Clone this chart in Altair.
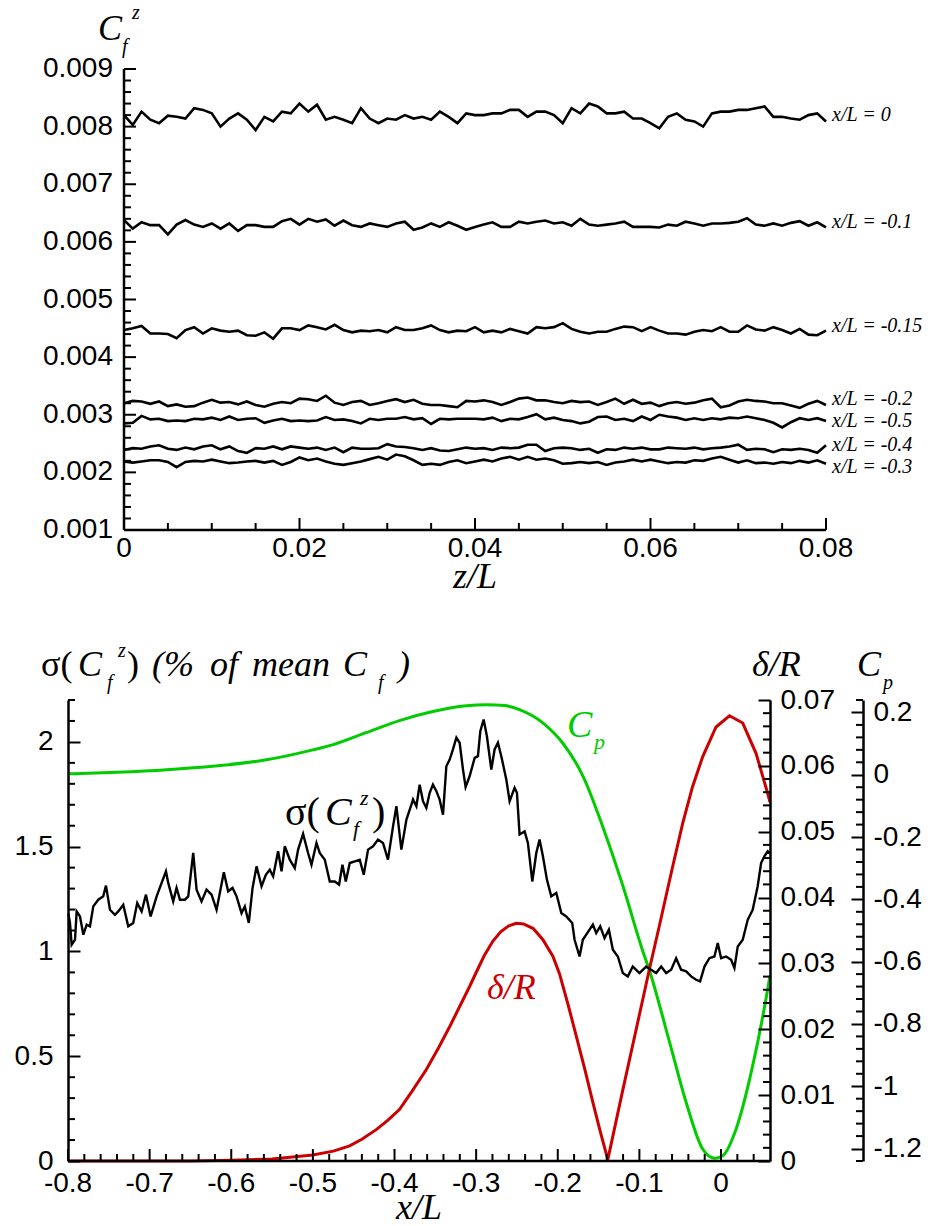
import altair as alt
import pandas as pd

# ---------------- top panel data (Cf^z, units of 1e-5) ----------------
SERIES = ["x/L = 0", "x/L = -0.1", "x/L = -0.15", "x/L = -0.2",
          "x/L = -0.5", "x/L = -0.4", "x/L = -0.3"]
Z = [round(i * 0.001, 3) for i in range(81)]

CF_0 = [820, 803, 826, 812, 806, 819, 817, 814, 832, 829,
        823, 800, 814, 823, 812, 794, 817, 809, 826, 823,
        840, 826, 838, 812, 817, 812, 806, 832, 814, 806,
        814, 812, 820, 814, 817, 812, 826, 817, 806, 823,
        820, 820, 823, 823, 829, 829, 817, 826, 826, 820,
        806, 832, 823, 840, 835, 823, 823, 826, 814, 814,
        806, 797, 817, 823, 812, 809, 800, 823, 826, 826,
        829, 829, 832, 835, 817, 817, 814, 812, 820, 823,
        809]
CF_M01 = [638, 623, 634, 629, 629, 613, 630, 638, 630, 626,
          632, 623, 632, 619, 629, 629, 626, 626, 636, 640,
          630, 640, 635, 639, 628, 637, 629, 626, 632, 629,
          626, 632, 635, 621, 625, 632, 626, 634, 628, 621,
          626, 630, 634, 626, 626, 635, 632, 635, 637, 632,
          634, 628, 640, 630, 628, 630, 632, 635, 626, 626,
          626, 625, 630, 628, 635, 632, 628, 632, 632, 633,
          635, 641, 630, 628, 632, 628, 633, 636, 628, 634,
          625]
CF_M015 = [447, 450, 454, 441, 441, 440, 433, 447, 452, 441,
           450, 446, 444, 446, 438, 437, 443, 432, 450, 450,
           447, 455, 452, 448, 456, 447, 443, 446, 445, 447,
           443, 452, 447, 447, 450, 455, 447, 443, 446, 445,
           452, 443, 446, 443, 449, 445, 441, 452, 450, 452,
           459, 449, 444, 441, 444, 444, 449, 453, 452, 445,
           452, 446, 441, 441, 439, 444, 447, 445, 452, 444,
           444, 455, 448, 446, 452, 447, 441, 449, 439, 438,
           446]
CF_M02 = [320, 324, 323, 319, 323, 315, 318, 314, 315, 321,
          326, 321, 322, 318, 323, 317, 314, 319, 322, 320,
          328, 327, 324, 333, 321, 317, 322, 324, 317, 320,
          324, 327, 322, 326, 319, 317, 317, 315, 313, 324,
          323, 325, 322, 317, 322, 328, 330, 325, 325, 322,
          320, 324, 322, 323, 317, 322, 328, 319, 326, 319,
          321, 315, 320, 322, 319, 321, 325, 328, 313, 316,
          323, 326, 324, 323, 320, 320, 316, 312, 319, 324,
          317]
CF_M05 = [285, 286, 298, 292, 293, 289, 290, 289, 293, 292,
          295, 291, 297, 291, 293, 294, 286, 290, 293, 289,
          290, 289, 290, 296, 291, 292, 289, 285, 293, 291,
          293, 293, 296, 292, 294, 284, 293, 292, 293, 293,
          293, 292, 295, 289, 293, 292, 296, 301, 292, 295,
          291, 289, 285, 288, 296, 297, 291, 293, 289, 297,
          291, 300, 297, 295, 291, 294, 291, 294, 292, 295,
          294, 297, 294, 291, 286, 278, 287, 294, 291, 294,
          289]
CF_M04 = [239, 242, 241, 245, 247, 241, 239, 243, 240, 245,
          247, 240, 245, 237, 234, 242, 241, 245, 240, 245,
          243, 241, 243, 239, 243, 235, 243, 241, 241, 242,
          249, 245, 244, 242, 239, 242, 238, 237, 240, 243,
          241, 242, 239, 243, 242, 243, 248, 248, 237, 242,
          243, 242, 239, 241, 234, 240, 239, 243, 241, 243,
          240, 240, 243, 242, 241, 243, 240, 242, 243, 245,
          248, 239, 241, 240, 235, 240, 239, 241, 239, 234,
          247]
CF_M03 = [219, 217, 219, 221, 221, 218, 209, 218, 220, 219,
          222, 219, 216, 217, 219, 220, 217, 220, 213, 218,
          226, 221, 224, 219, 215, 213, 216, 219, 223, 227,
          222, 231, 228, 221, 213, 215, 213, 218, 221, 216,
          219, 222, 219, 224, 227, 222, 227, 222, 224, 221,
          215, 216, 218, 216, 218, 213, 217, 219, 222, 219,
          222, 219, 216, 218, 217, 221, 220, 224, 227, 222,
          217, 221, 216, 217, 215, 218, 216, 220, 217, 221,
          215]
CF_ALL = [CF_0, CF_M01, CF_M015, CF_M02, CF_M05, CF_M04, CF_M03]
LABEL_Y = [0.00820, 0.00634, 0.00454, 0.00328, 0.00289, 0.00248, 0.00210]

TOP_X_MAJOR = [0, 0.02, 0.04, 0.06, 0.08]
TOP_X_MINOR = [0.005, 0.01, 0.015, 0.025, 0.03, 0.035, 0.045, 0.05, 0.055, 0.065, 0.07, 0.075]
TOP_Y_MAJOR = [0.001, 0.002, 0.003, 0.004, 0.005, 0.006, 0.007, 0.008, 0.009]
TOP_Y_MINOR = [round(0.001 + 0.0002 * i, 4) for i in range(1, 40) if i % 5]

# ---------------- bottom panel data ----------------
SIG_X = [-0.7996, -0.7976, -0.7955, -0.7914, -0.7894, -0.7853, -0.7812, -0.7771, -0.7731, -0.769,
         -0.7629, -0.7568, -0.7535, -0.7486, -0.7425, -0.7384, -0.7323, -0.7262, -0.7201, -0.7152,
         -0.7098, -0.7045, -0.6988, -0.6914, -0.6853, -0.68, -0.6772, -0.6711, -0.667, -0.6629,
         -0.6568, -0.6527, -0.6466, -0.6425, -0.6364, -0.6303, -0.6241, -0.618, -0.614, -0.6091,
         -0.6038, -0.5984, -0.5935, -0.5874, -0.5834, -0.5785, -0.5739, -0.569, -0.5629, -0.5576,
         -0.5528, -0.5487, -0.5426, -0.5384, -0.5344, -0.5283, -0.5222, -0.5181, -0.512, -0.5059,
         -0.5017, -0.4956, -0.4916, -0.4854, -0.4793, -0.4732, -0.4679, -0.4638, -0.4597, -0.4548,
         -0.4487, -0.4426, -0.4377, -0.4324, -0.4263, -0.4202, -0.4141, -0.408, -0.4018, -0.3977,
         -0.3916, -0.3854, -0.3793, -0.3773, -0.3732, -0.3692, -0.3651, -0.361, -0.3569, -0.3529,
         -0.3487, -0.3447, -0.3406, -0.3365, -0.3324, -0.3284, -0.3242, -0.3202, -0.3161, -0.3129,
         -0.308, -0.3018, -0.2978, -0.2949, -0.2908, -0.2868, -0.2814, -0.2774, -0.2733, -0.2692,
         -0.263, -0.259, -0.2529, -0.25, -0.2468, -0.2406, -0.2366, -0.2312, -0.2263, -0.2223,
         -0.2182, -0.2133, -0.208, -0.2018, -0.1957, -0.1896, -0.1823, -0.1794, -0.1733, -0.1693,
         -0.1611, -0.157, -0.1529, -0.148, -0.1427, -0.1374, -0.1325, -0.1264, -0.1203, -0.1142,
         -0.1081, -0.0999, -0.0917, -0.0856, -0.0795, -0.0733, -0.0672, -0.0611, -0.055, -0.0489,
         -0.0427, -0.0366, -0.0305, -0.0256, -0.0203, -0.0142, -0.0081, -0.004, 0.0001, 0.0062,
         0.0124, 0.0164, 0.0205, 0.0266, 0.0327, 0.0388, 0.0449, 0.0491, 0.0531, 0.0572,
         0.06]
SIG_Y = [1.18, 1.136, 1.032, 1.056, 1.191, 1.167, 1.080, 1.128, 1.120, 1.215,
         1.247, 1.263, 1.314, 1.199, 1.175, 1.191, 1.223, 1.120, 1.136, 1.231,
         1.191, 1.271, 1.167, 1.263, 1.327, 1.382, 1.327, 1.239, 1.303, 1.247,
         1.247, 1.263, 1.470, 1.295, 1.239, 1.295, 1.271, 1.199, 1.279, 1.378,
         1.287, 1.303, 1.263, 1.183, 1.215, 1.136, 1.303, 1.406, 1.311, 1.366,
         1.390, 1.358, 1.478, 1.382, 1.502, 1.438, 1.398, 1.486, 1.561, 1.470,
         1.414, 1.518, 1.470, 1.438, 1.334, 1.334, 1.319, 1.414, 1.334, 1.422,
         1.430, 1.438, 1.366, 1.486, 1.502, 1.534, 1.518, 1.438, 1.597, 1.693,
         1.486, 1.629, 1.701, 1.725, 1.693, 1.796, 1.717, 1.685, 1.757, 1.796,
         1.765, 1.725, 1.653, 1.884, 1.916, 1.964, 2.020, 1.996, 1.868, 1.785,
         1.836, 1.924, 1.932, 2.051, 2.107, 2.027, 1.868, 1.964, 1.996, 1.932,
         1.820, 1.717, 1.781, 1.757, 1.558, 1.573, 1.518, 1.334, 1.470, 1.534,
         1.454, 1.343, 1.263, 1.279, 1.183, 1.167, 1.136, 1.056, 0.976, 1.056,
         1.104, 1.128, 1.088, 1.120, 1.064, 1.104, 1.008, 0.976, 0.897, 0.881,
         0.928, 0.897, 0.928, 0.913, 0.897, 0.928, 0.897, 0.913, 0.968, 0.913,
         0.905, 0.881, 0.865, 0.857, 0.928, 0.968, 0.976, 1.040, 0.968, 0.976,
         0.960, 0.921, 1.024, 1.056, 1.151, 1.199, 1.311, 1.422, 1.454, 1.478,
         1.47]

DEL_X = [-0.8, -0.65, -0.6, -0.55, -0.5, -0.475, -0.455, -0.44, -0.422, -0.408,
         -0.394, -0.378, -0.361, -0.346, -0.332, -0.32, -0.308, -0.2997, -0.29, -0.2794,
         -0.27, -0.26, -0.2508, -0.242, -0.23, -0.2182, -0.206, -0.1978, -0.1875, -0.1774,
         -0.167, -0.157, -0.148, -0.1387, -0.1203, -0.1, -0.0876, -0.0754, -0.0714, -0.06,
         -0.0469, -0.035, -0.0224, -0.0061, 0.0103, 0.0266, 0.0429, 0.0572, 0.06]
DEL_Y = [0.0, 0.0, 0.0001, 0.0003, 0.0009, 0.0015, 0.0023, 0.0033, 0.0048, 0.0062,
         0.0078, 0.0107, 0.0139, 0.0172, 0.0205, 0.0235, 0.0265, 0.0287, 0.0312, 0.0334,
         0.0348, 0.0357, 0.0361, 0.0360, 0.0353, 0.0336, 0.0311, 0.0284, 0.0238, 0.0190,
         0.0140, 0.0089, 0.0045, 0.0002, 0.0108, 0.0222, 0.0292, 0.0358, 0.0380, 0.0443,
         0.0513, 0.0568, 0.0614, 0.0659, 0.0676, 0.0665, 0.0619, 0.0558, 0.0545]

CP_X = [-0.8, -0.74, -0.679, -0.62, -0.557, -0.5, -0.476, -0.435, -0.394, -0.353,
        -0.312, -0.2875, -0.265, -0.247, -0.218, -0.194, -0.169, -0.145, -0.12, -0.096,
        -0.0876, -0.063, -0.0427, -0.0224, -0.008, 0.002, 0.0185, 0.0388, 0.0572, 0.06]
CP_Y = [0.003, 0.008, 0.016, 0.028, 0.048, 0.080, 0.096, 0.135, 0.174, 0.203,
        0.2215, 0.225, 0.222, 0.209, 0.166, 0.102, -0.005, -0.166, -0.359, -0.565,
        -0.629, -0.859, -1.052, -1.202, -1.231, -1.223, -1.137, -0.934, -0.688, -0.645]

BOT_X_MAJOR = [-0.8, -0.7, -0.6, -0.5, -0.4, -0.3, -0.2, -0.1, 0]
BOT_X_MINOR = [round(-0.8 + 0.02 * i, 2) for i in range(1, 43) if i % 5]
SIG_MAJOR = [0, 0.5, 1, 1.5, 2]
SIG_MINOR = [round(0.1 * i, 1) for i in range(1, 23) if i % 5]
DEL_MAJOR = [0, 0.01, 0.02, 0.03, 0.04, 0.05, 0.06, 0.07]
DEL_MINOR = [round(0.002 * i, 3) for i in range(1, 35) if i % 5]
CP_MAJOR = [-1.2, -1, -0.8, -0.6, -0.4, -0.2, 0, 0.2]
CP_MINOR = [round(-1.24 + 0.04 * i, 2) for i in range(0, 38) if (i - 1) % 5]

GREEN = "#00CC00"
RED = "#CC0000"

# ---------------- tables ----------------
rows = []
for name, vals in zip(SERIES, CF_ALL):
    for z, v in zip(Z, vals):
        rows.append({"series": name, "z": z, "cf": v * 1e-5})
top_df = pd.DataFrame(rows)
lab_df = pd.DataFrame({"series": SERIES, "z": [0.08] * len(SERIES), "cf": LABEL_Y})
sig_df = pd.DataFrame({"x": SIG_X, "y": SIG_Y})
del_df = pd.DataFrame({"x": DEL_X, "y": DEL_Y})
cp_df = pd.DataFrame({"x": CP_X, "y": CP_Y})

MAJ, MIN = 12, 7
LABEL_FONT = dict(font="Liberation Sans", fontSize=28, color="black")


# ---------------- helpers ----------------
def ax_main(orient, values, offset=0, pad=10):
    """y axis: labels + domain + inward major ticks (negative tick size as an expression)"""
    return alt.Axis(orient=orient, values=values, offset=offset, ticks=True,
                    tickSize=alt.ExprRef(expr=str(-MAJ)), tickWidth=2, tickColor="black",
                    domain=True, domainColor="black", domainWidth=2.5,
                    labels=True, labelPadding=pad + MAJ, labelExpr="'' + datum.value",
                    labelFlush=False, labelOverlap=False, grid=False, title=None,
                    labelFont="Liberation Sans", labelFontSize=28, labelColor="black",
                    zindex=1)


def yrules(values, scale, x1, x2):
    """inward ticks of a vertical axis, placed through the axis' scale"""
    return alt.Chart(pd.DataFrame({"tick": values})).mark_rule(
        color="black", strokeWidth=2).encode(
        y=alt.Y("tick:Q", scale=scale, axis=None), x=alt.value(x1), x2=alt.value(x2))


def xrules(values, scale, y1, y2):
    """inward ticks of a horizontal axis, placed through the axis' scale"""
    return alt.Chart(pd.DataFrame({"tick": values})).mark_rule(
        color="black", strokeWidth=2).encode(
        x=alt.X("tick:Q", scale=scale, axis=None), y=alt.value(y1), y2=alt.value(y2))


def xdomain(dom, scale, y):
    return alt.Chart(pd.DataFrame({"a": [dom[0]], "b": [dom[1]]})).mark_rule(
        color="black", strokeWidth=2.5).encode(
        x=alt.X("a:Q", scale=scale, axis=None), x2="b:Q", y=alt.value(y))


def ydomain(dom, scale, x):
    return alt.Chart(pd.DataFrame({"a": [dom[0]], "b": [dom[1]]})).mark_rule(
        color="black", strokeWidth=2.5).encode(
        y=alt.Y("a:Q", scale=scale, axis=None), y2="b:Q", x=alt.value(x))


def xlabels(values, scale, y):
    df = pd.DataFrame({"tick": values, "label": [f"{v:g}" for v in values]})
    return alt.Chart(df).mark_text(baseline="top", align="center", **LABEL_FONT).encode(
        x=alt.X("tick:Q", scale=scale, axis=None), y=alt.value(y), text="label:N")


def ylabels(values, scale, x):
    df = pd.DataFrame({"tick": values, "label": [f"{v:g}" for v in values]})
    return alt.Chart(df).mark_text(baseline="middle", align="right", **LABEL_FONT).encode(
        y=alt.Y("tick:Q", scale=scale, axis=None), x=alt.value(x), text="label:N")


def txt(s, x, y, size=36, italic=True, color="black", align="left"):
    return alt.Chart(pd.DataFrame({"t": [s]})).mark_text(
        font="Liberation Serif", fontSize=size,
        fontStyle="italic" if italic else "normal",
        color=color, align=align, baseline="alphabetic").encode(
        x=alt.value(x), y=alt.value(y), text="t:N")


# ---------------- top panel ----------------
TW, TH, TX0 = 758, 461, 56
TOP_XD, TOP_YD = [0, 0.08], [0.001, 0.009]
XS_TOP = alt.Scale(domain=TOP_XD, range=[TX0, TW], nice=False, zero=False)
YS_TOP = alt.Scale(domain=TOP_YD, nice=False, zero=False)

top_line = alt.Chart(top_df).mark_line(color="black", strokeWidth=2.6).encode(
    x=alt.X("z:Q", scale=XS_TOP, axis=None),
    y=alt.Y("cf:Q", scale=YS_TOP, axis=None),
    detail="series:N")
top_lab = alt.Chart(lab_df).mark_text(
    align="left", baseline="middle", dx=6, font="Liberation Serif",
    fontStyle="italic", fontSize=20, color="black").encode(
    x=alt.X("z:Q", scale=XS_TOP, axis=None),
    y=alt.Y("cf:Q", scale=YS_TOP, axis=None),
    text="series:N")

top = alt.layer(
    top_line, top_lab,
    xdomain(TOP_XD, XS_TOP, TH), ydomain(TOP_YD, YS_TOP, TX0),
    yrules(TOP_Y_MAJOR, YS_TOP, TX0, TX0 + MAJ),
    yrules(TOP_Y_MINOR, YS_TOP, TX0, TX0 + MIN),
    xrules(TOP_X_MAJOR, XS_TOP, TH - MAJ, TH),
    xrules(TOP_X_MINOR, XS_TOP, TH - MIN, TH),
    xlabels(TOP_X_MAJOR, XS_TOP, TH + 5),
    ylabels(TOP_Y_MAJOR, YS_TOP, TX0 - 11),
    txt("C", 30, -29, 36), txt("f", 54, -16, 20), txt("z", 64, -50, 20),
    txt("z/L", TX0 + (TW - TX0) / 2, TH + 58, 36, align="center"),
).properties(width=TW, height=TH)

# ---------------- bottom panel ----------------
BW, BH = 702, 461
CP_OFF = 93
BOT_XD = [-0.8, 0.06]
XS_BOT = alt.Scale(domain=BOT_XD, nice=False, zero=False)
YS_SIG = alt.Scale(domain=[0, 2.2], nice=False, zero=False)
YS_DEL = alt.Scale(domain=[0, 0.07], nice=False, zero=False)
YS_CP = alt.Scale(domain=[-1.24, 0.24], nice=False, zero=False)

cp_line = alt.Chart(cp_df).mark_line(color=GREEN, strokeWidth=3, interpolate="monotone").encode(
    x=alt.X("x:Q", scale=XS_BOT, axis=None),
    y=alt.Y("y:Q", scale=YS_CP, axis=ax_main("right", CP_MAJOR, CP_OFF, 10)))
del_line = alt.Chart(del_df).mark_line(color=RED, strokeWidth=3).encode(
    x=alt.X("x:Q", scale=XS_BOT, axis=None),
    y=alt.Y("y:Q", scale=YS_DEL, axis=ax_main("right", DEL_MAJOR, 0, 10)))
sig_line = alt.Chart(sig_df).mark_line(color="black", strokeWidth=2.4).encode(
    x=alt.X("x:Q", scale=XS_BOT, axis=None),
    y=alt.Y("y:Q", scale=YS_SIG, axis=ax_main("left", SIG_MAJOR, 0, 15)))

bottom = alt.layer(
    cp_line, del_line, sig_line,
    yrules(SIG_MINOR, YS_SIG, 0, MIN),
    yrules(DEL_MINOR, YS_DEL, BW - MIN, BW),
    yrules(CP_MINOR, YS_CP, BW + CP_OFF - MIN, BW + CP_OFF),
    xdomain(BOT_XD, XS_BOT, BH),
    xrules(BOT_X_MAJOR, XS_BOT, BH - MAJ, BH),
    xrules(BOT_X_MINOR, XS_BOT, BH - MIN, BH),
    xlabels(BOT_X_MAJOR, XS_BOT, BH + 9),
    # left title
    txt("σ(", -27, -24, 36, italic=False), txt("C", 10, -24), txt("f", 39, -11, 20),
    txt("z", 50, -43, 20), txt(")", 59, -24, 36, italic=False),
    txt("(%", 84, -24), txt("of", 142, -24), txt("mean", 184, -24), txt("C", 275, -24),
    txt("f", 310, -11, 20), txt(")", 330, -24),
    # right titles
    txt("δ/R", 684, -24), txt("C", 789, -24), txt("p", 815, -11, 20),
    # in-plot labels
    txt("C", 499, 37, 38, color=GREEN), txt("p", 526, 49, 22, color=GREEN),
    txt("σ(", 217, 125, 40, italic=False), txt("C", 257, 125, 40),
    txt("f", 285, 136, 22), txt("z", 292, 105, 22), txt(")", 304, 125, 40, italic=False),
    txt("δ/R", 419, 299, 36, color=RED),
    txt("x/L", BW / 2, BH + 58, 36, align="center"),
).resolve_scale(y="independent").resolve_axis(y="independent").properties(width=BW, height=BH)

chart = alt.vconcat(top, bottom, spacing=170, bounds="flush").properties(
    padding={"left": 14, "top": 3, "right": 5, "bottom": 5}
).configure_view(strokeWidth=0)

chart.save("out.html", embed_options={"renderer": "svg", "actions": False})
